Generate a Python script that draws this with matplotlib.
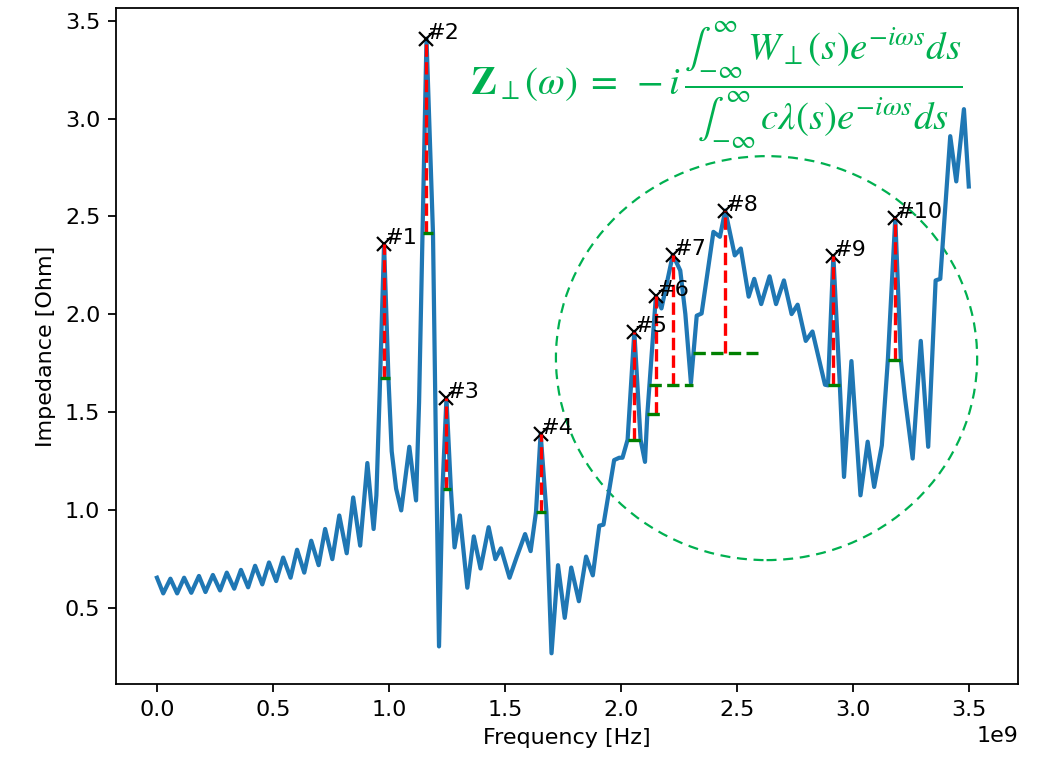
import matplotlib
matplotlib.use("Agg")
import matplotlib.pyplot as plt
from matplotlib.patches import Ellipse
import numpy as np

# impedance curve (frequency in GHz, impedance in Ohm)
freq_ghz = [0.000, 0.027, 0.058, 0.087, 0.117, 0.148, 0.181, 0.209, 0.241, 0.272,
            0.301, 0.333, 0.362, 0.393, 0.423, 0.454, 0.483, 0.514, 0.544, 0.576,
            0.604, 0.635, 0.665, 0.697, 0.725, 0.756, 0.786, 0.818, 0.846, 0.876,
            0.907, 0.934, 0.946, 0.960, 0.979, 0.998, 1.012, 1.031, 1.053, 1.088,
            1.117, 1.130, 1.145, 1.162, 1.190, 1.203, 1.216, 1.231, 1.248, 1.267,
            1.283, 1.306, 1.338, 1.366, 1.395, 1.430, 1.459, 1.483, 1.520, 1.551,
            1.587, 1.611, 1.634, 1.654, 1.679, 1.701, 1.729, 1.758, 1.786, 1.819,
            1.850, 1.879, 1.907, 1.925, 1.971, 1.993, 2.007, 2.029, 2.058, 2.085,
            2.104, 2.114, 2.151, 2.175, 2.224, 2.256, 2.278, 2.302, 2.313, 2.327,
            2.348, 2.399, 2.427, 2.450, 2.491, 2.517, 2.551, 2.575, 2.605, 2.641,
            2.669, 2.703, 2.736, 2.762, 2.797, 2.826, 2.880, 2.893, 2.916, 2.944,
            2.962, 2.994, 3.033, 3.064, 3.092, 3.125, 3.151, 3.183, 3.207, 3.225,
            3.258, 3.293, 3.325, 3.357, 3.377, 3.420, 3.446, 3.479, 3.500]
impedance = [0.654, 0.574, 0.649, 0.574, 0.654, 0.577, 0.663, 0.581, 0.668, 0.589,
             0.680, 0.598, 0.694, 0.605, 0.715, 0.620, 0.732, 0.637, 0.757, 0.654,
             0.797, 0.680, 0.843, 0.718, 0.903, 0.749, 0.972, 0.779, 1.064, 0.818,
             1.240, 0.903, 1.075, 1.590, 2.358, 1.672, 1.300, 1.109, 0.998, 1.323,
             1.049, 1.550, 2.413, 3.408, 2.413, 1.300, 0.303, 1.109, 1.571, 1.109,
             0.809, 0.972, 0.603, 0.865, 0.701, 0.912, 0.749, 0.804, 0.654, 0.760,
             0.877, 0.790, 0.989, 1.390, 0.989, 0.268, 0.718, 0.449, 0.706, 0.534,
             0.762, 0.666, 0.920, 0.925, 1.255, 1.267, 1.267, 1.359, 1.910, 1.359,
             1.246, 1.488, 2.092, 2.030, 2.304, 2.224, 2.001, 1.650, 1.801, 1.993,
             2.004, 2.421, 2.396, 2.530, 2.301, 2.336, 2.090, 2.181, 2.052, 2.194,
             2.052, 2.173, 2.001, 2.049, 1.864, 1.912, 1.640, 1.637, 2.298, 1.637,
             1.169, 1.761, 1.075, 1.349, 1.118, 1.330, 1.766, 2.490, 1.766, 1.572,
             1.263, 1.864, 1.323, 2.173, 2.181, 2.910, 2.679, 3.048, 2.653]

# detected peaks: position, height, prominence base, width line ends
peak_ghz = [0.979, 1.162, 1.248, 1.654, 2.058, 2.151, 2.224, 2.450, 2.916, 3.183]
peak_imp = [2.358, 3.408, 1.571, 1.390, 1.910, 2.092, 2.304, 2.530, 2.298, 2.490]
base_imp = [1.672, 2.413, 1.109, 0.989, 1.359, 1.488, 1.637, 1.801, 1.637, 1.766]
left_ghz = [0.960, 1.145, 1.231, 1.634, 2.029, 2.114, 2.121, 2.313, 2.893, 3.151]
right_ghz = [1.003, 1.191, 1.267, 1.679, 2.085, 2.175, 2.313, 2.591, 2.944, 3.207]

freq = np.array(freq_ghz) * 1e9
peaks = np.array(peak_ghz) * 1e9

plt.rcParams["mathtext.fontset"] = "stix"

fig = plt.figure(figsize=(6.5, 4.75), dpi=160)
ax = fig.add_axes([0.1115, 0.1, 0.8675, 0.8895])

ax.plot(freq, impedance, linewidth=1.9)
ax.plot(peaks, peak_imp, "x", color="k")
ax.vlines(x=peaks, ymin=base_imp, ymax=peak_imp, color="r", linestyles="dashed")
ax.hlines(y=base_imp, xmin=np.array(left_ghz) * 1e9, xmax=np.array(right_ghz) * 1e9,
          color="g", linestyles="dashed")
for i, (x, y) in enumerate(zip(peaks, peak_imp)):
    ax.text(x, y, "#%d" % (i + 1), fontsize=10)

ax.set_xlabel("Frequency [Hz]")
ax.set_ylabel("Impedance [Ohm]")

# highlighted region
ax.add_patch(Ellipse((2.628e9, 1.776), 1.816e9, 2.064, fill=False, edgecolor="#00B050",
                     linewidth=1.0, linestyle=(0, (4.5, 3))))

formula = (r"$\mathbf{Z}_{\perp}(\omega)\;=\;-i\,\dfrac{\int_{-\infty}^{\infty}\,W_{\perp}(s)e^{-i\omega s}ds}"
           r"{\int_{-\infty}^{\infty}\,c\lambda(s)e^{-i\omega s}ds}$")
fig.text(0.689, 0.888, formula, color="#00B050", fontsize=17.5, ha="center", va="center")

fig.savefig("out.png", dpi=160)
